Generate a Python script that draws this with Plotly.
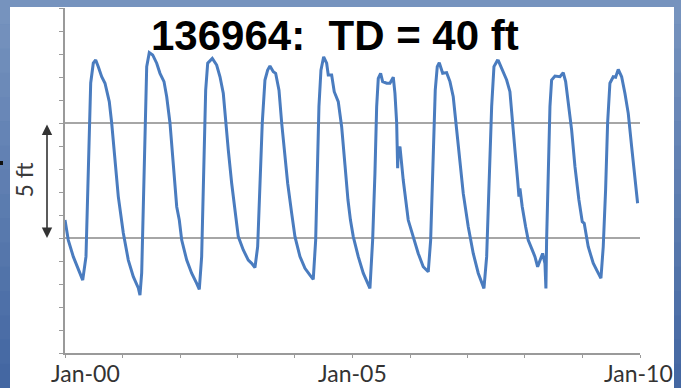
import pandas as pd
import plotly.graph_objects as go

# ---- data ----
# decimal year, relative water level (ft)
years = [2000.000, 2000.057, 2000.144, 2000.231, 2000.308, 2000.365, 2000.388, 2000.423, 2000.447, 2000.492,
         2000.534, 2000.579, 2000.638, 2000.696, 2000.770, 2000.812, 2000.870, 2000.927, 2001.014, 2001.101,
         2001.188, 2001.275, 2001.304,
         2001.334, 2001.362, 2001.391, 2001.421, 2001.466, 2001.525, 2001.595, 2001.652, 2001.722, 2001.769,
         2001.826, 2001.883, 2001.943, 2001.988, 2002.030, 2002.117, 2002.203, 2002.290, 2002.336,
         2002.377, 2002.417, 2002.447, 2002.482, 2002.562, 2002.638, 2002.696, 2002.753, 2002.795, 2002.840,
         2002.899, 2002.957, 2003.014, 2003.101, 2003.188, 2003.247, 2003.304,
         2003.351, 2003.391, 2003.431, 2003.478, 2003.525, 2003.565, 2003.623, 2003.664, 2003.722, 2003.769,
         2003.814, 2003.873, 2003.943, 2004.000, 2004.087, 2004.174, 2004.261, 2004.318,
         2004.360, 2004.388, 2004.417, 2004.452, 2004.499, 2004.551, 2004.579, 2004.638, 2004.683, 2004.753,
         2004.812, 2004.870, 2004.922, 2004.965, 2005.014, 2005.101, 2005.188, 2005.304,
         2005.351, 2005.391, 2005.421, 2005.449, 2005.490, 2005.525, 2005.595, 2005.652, 2005.710, 2005.739,
         2005.769, 2005.786, 2005.797, 2005.826, 2005.883, 2005.970, 2006.057, 2006.144, 2006.231, 2006.318,
         2006.360, 2006.405, 2006.440, 2006.475, 2006.510, 2006.569, 2006.638, 2006.696, 2006.753, 2006.800,
         2006.857, 2006.927, 2007.014, 2007.101, 2007.188, 2007.287,
         2007.334, 2007.379, 2007.421, 2007.461, 2007.518, 2007.539, 2007.605, 2007.682, 2007.739, 2007.779,
         2007.826, 2007.873, 2007.896, 2007.913, 2007.953, 2008.012, 2008.057, 2008.116, 2008.174, 2008.221,
         2008.261, 2008.308, 2008.348, 2008.365,
         2008.377, 2008.405, 2008.435, 2008.464, 2008.522, 2008.609, 2008.666, 2008.708, 2008.765, 2008.812,
         2008.870, 2008.939, 2008.997, 2009.031, 2009.101, 2009.188, 2009.275, 2009.322,
         2009.362, 2009.403, 2009.438, 2009.478, 2009.536, 2009.577, 2009.623, 2009.682, 2009.739, 2009.797,
         2009.856, 2009.913, 2009.960]

level = [5.78, 4.91, 4.19, 3.61, 3.17, 4.19, 6.36, 10.00, 11.74, 12.60,
         12.74, 12.45, 12.01, 11.73, 10.93, 10.00, 8.53, 6.80, 5.22, 4.04,
         3.32, 2.83, 2.52,
         3.48, 6.36, 10.00, 12.45, 13.06, 12.96, 12.60, 12.16, 11.80, 11.14,
         10.00, 8.25, 6.36, 5.78, 4.91, 4.04, 3.47, 3.03, 2.77,
         4.19, 7.81, 11.43, 12.60, 12.81, 12.52, 12.01, 11.29, 10.00, 8.83,
         7.38, 6.07, 5.06, 4.48, 4.04, 3.90, 3.71,
         4.62, 7.09, 10.00, 11.87, 12.30, 12.48, 12.23, 12.16, 11.43, 10.00,
         8.83, 7.38, 6.07, 5.06, 4.19, 3.68, 3.39, 3.20,
         4.91, 7.81, 10.71, 12.30, 12.88, 12.60, 12.09, 12.09, 11.36, 10.93,
         9.84, 8.17, 6.65, 5.78, 5.06, 4.19, 3.47, 2.81,
         4.91, 7.81, 10.71, 11.94, 12.16, 11.80, 11.73, 11.73, 11.99, 11.29,
         10.00, 8.03, 8.83, 8.97, 7.52, 5.78, 5.06, 4.33, 3.75, 3.53,
         4.91, 8.53, 11.43, 12.45, 12.62, 12.16, 12.19, 11.80, 11.14, 10.00,
         8.53, 6.94, 5.49, 4.33, 3.47, 2.81,
         4.19, 7.81, 10.71, 12.45, 12.71, 12.70, 12.30, 11.87, 11.36, 10.00,
         8.83, 7.52, 6.80, 7.16, 6.36, 5.49, 4.91, 4.55, 4.19, 3.75,
         4.04, 4.33, 3.90, 2.81,
         4.91, 7.81, 10.71, 11.87, 12.04, 12.01, 12.19, 11.80, 10.71, 9.70,
         8.10, 6.65, 5.71, 5.64, 4.62, 3.90, 3.47, 3.25,
         4.62, 7.09, 10.00, 11.73, 12.01, 11.99, 12.33, 12.01, 11.29, 10.42,
         8.97, 7.52, 6.51]

tick_dates = ["2000-01-01", "2005-01-01", "2010-01-01"]
tick_labels = ["Jan-00", "Jan-05", "Jan-10"]
title_text = "136964:&nbsp; TD = 40 ft"
scale_label = "5 ft"

# ---- build ----
base = pd.Timestamp("2000-01-01")
dates = [base + pd.Timedelta(days=(y - 2000.0) * 365.25) for y in years]

W, H = 681, 388
ML, MR, MT, MB = 65, 41, 8, 35
PW, PH = W - ML - MR, H - MT - MB


def px(x):
    return (x - ML) / PW


def py(y):
    return (H - MB - y) / PH


fig = go.Figure()
fig.add_trace(go.Scatter(x=dates, y=level, mode="lines",
                         line=dict(color="#4a7cbf", width=3), hoverinfo="skip"))

shapes = []
# blue slide background as vertical gradient bands
n = 16
top_c = (0x76, 0x93, 0xbe)
bot_c = (0x44, 0x67, 0xa2)
for i in range(n):
    f = i / (n - 1)
    c = tuple(int(round(top_c[k] + (bot_c[k] - top_c[k]) * f)) for k in range(3))
    y0 = H * i / n
    y1 = H * (i + 1) / n
    shapes.append(dict(type="rect", xref="paper", yref="paper", layer="below",
                       x0=px(0), x1=px(W), y0=py(y1 + 0.5), y1=py(y0),
                       fillcolor="rgb(%d,%d,%d)" % c, line=dict(width=0)))
# white slide panel
shapes.append(dict(type="rect", xref="paper", yref="paper", layer="below",
                   x0=px(10), x1=px(674), y0=py(H + 2), y1=py(7),
                   fillcolor="white", line=dict(width=0)))
# small dark fragment at the left edge
shapes.append(dict(type="rect", xref="paper", yref="paper", layer="above",
                   x0=px(0), x1=px(3), y0=py(165), y1=py(161),
                   fillcolor="#111111", line=dict(width=0)))

annotations = [
    dict(text=title_text, xref="paper", yref="paper", x=px(335), y=py(35),
         xanchor="center", yanchor="middle", showarrow=False,
         font=dict(family="Liberation Sans", size=42, color="#000000", weight="bold")),
    dict(text=scale_label, xref="paper", yref="y", x=px(23), y=7.5, textangle=-90,
         xanchor="center", yanchor="middle", showarrow=False,
         font=dict(family="Lato", size=23, color="#3a3a3a")),
    dict(text="", xref="paper", yref="y", x=px(47), y=5.0,
         axref="pixel", ayref="y", ax=0, ay=10.0, showarrow=True,
         arrowhead=2, startarrowhead=2, arrowside="end+start", arrowsize=1.3,
         startarrowsize=1.3, arrowwidth=1.6, arrowcolor="#333333", standoff=0, startstandoff=0),
]
shifts = [20, 0, -2]
for d, lab, s in zip(tick_dates, tick_labels, shifts):
    annotations.append(dict(text=lab, xref="x", yref="paper", x=d, y=py(373),
                            xanchor="center", yanchor="middle", xshift=s, showarrow=False,
                            font=dict(family="Lato", size=23, color="#333333")))

fig.update_layout(
    width=W, height=H,
    margin=dict(l=ML, r=MR, t=MT, b=MB, pad=0),
    paper_bgcolor="#5a7bb0", plot_bgcolor="white",
    showlegend=False,
    shapes=shapes, annotations=annotations,
    xaxis=dict(type="date", range=["2000-01-01", "2010-01-01"],
               tickvals=tick_dates, ticktext=["", "", ""], showticklabels=False,
               ticks="outside", ticklen=3, tickcolor="#9a9a9a", tickwidth=1,
               minor=dict(tickvals=[f"{y}-01-01" for y in range(2000, 2011)],
                          ticks="outside", ticklen=3, tickcolor="#9a9a9a", showgrid=False),
               showgrid=False, showline=True, linecolor="#9a9a9a", linewidth=1.5,
               zeroline=False, fixedrange=True),
    yaxis=dict(range=[0, 15], tickvals=[0, 5, 10, 15], showticklabels=False,
               ticks="outside", ticklen=4, tickcolor="#9a9a9a", tickwidth=1,
               minor=dict(dtick=1, tick0=0, ticks="outside", ticklen=4, tickcolor="#9a9a9a",
                          showgrid=False),
               showgrid=True, gridcolor="#a6a6a6", gridwidth=1.5,
               showline=True, linecolor="#9a9a9a", linewidth=1.5,
               zeroline=False, fixedrange=True),
)

fig.write_html("out.html", config={"displayModeBar": False},
               post_script="document.body.style.margin='0';document.body.style.overflow='hidden';")
